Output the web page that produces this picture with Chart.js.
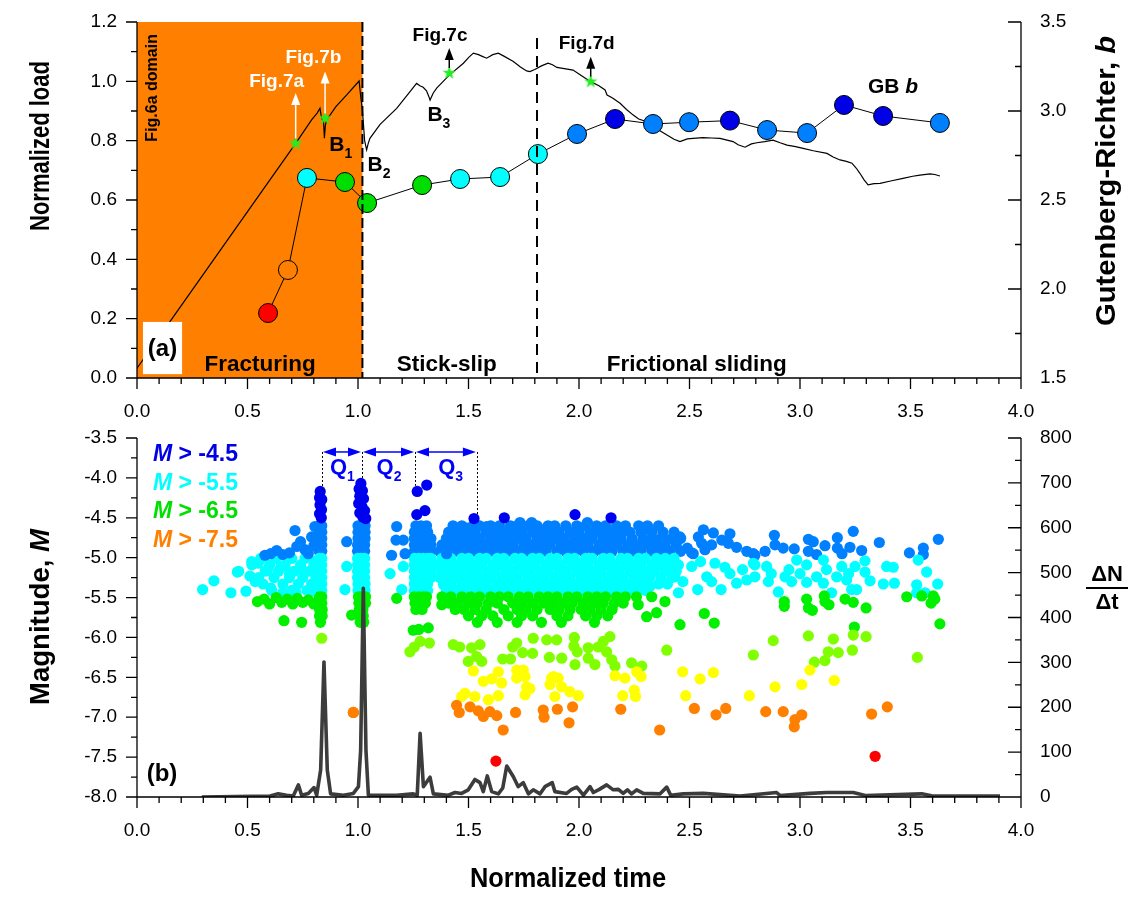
<!DOCTYPE html>
<html>
<head>
<meta charset="utf-8">
<script src="https://cdn.jsdelivr.net/npm/chart.js@4.4.1/dist/chart.umd.min.js"></script>
<style>
html, body { margin: 0; padding: 0; background: #fff; }
#wrap { position: relative; width: 1137px; height: 898px; }
.box { position: absolute; left: 0; width: 1137px; }
#topBox { top: 0; height: 425px; }
#botBox { top: 425px; height: 473px; }
</style>
</head>
<body>
<div id="wrap">
  <div class="box" id="topBox"><canvas id="loadChart"></canvas></div>
  <div class="box" id="botBox"><canvas id="magChart"></canvas></div>
</div>
<script>
// ---- panel (a): load curve ----
const loadT = [0.000,0.149,0.718,0.790,0.815,0.828,0.833,0.838,0.844,0.848,0.852,0.858,0.900,0.950,1.005,1.012,1.020,1.030,1.039,1.046,1.054,1.100,1.175,1.230,1.265,1.280,1.295,1.310,1.320,1.326,1.340,1.356,1.413,1.477,1.500,1.522,1.545,1.560,1.582,1.610,1.635,1.660,1.703,1.735,1.763,1.778,1.800,1.830,1.860,1.880,1.900,1.940,1.973,2.010,2.053,2.090,2.118,2.127,2.150,2.186,2.215,2.244,2.270,2.307,2.340,2.370,2.398,2.430,2.457,2.490,2.516,2.560,2.600,2.638,2.670,2.697,2.720,2.751,2.780,2.805,2.840,2.878,2.910,2.941,2.980,3.014,3.060,3.122,3.150,3.181,3.210,3.235,3.255,3.271,3.290,3.308,3.335,3.362,3.410,3.466,3.510,3.543,3.588,3.610,3.633];
const loadV = [0.033,0.190,0.791,0.870,0.893,0.909,0.885,0.872,0.866,0.808,0.850,0.870,0.915,0.955,1.001,0.950,0.903,0.800,0.769,0.790,0.808,0.855,0.909,0.960,0.993,0.985,0.980,0.968,0.950,0.937,0.960,0.977,1.021,1.061,1.080,1.095,1.090,1.085,1.078,1.090,1.095,1.085,1.067,1.048,1.035,1.033,1.040,1.052,1.061,1.056,1.047,1.042,1.038,1.020,0.999,0.985,0.971,0.954,0.945,0.926,0.905,0.887,0.873,0.864,0.845,0.832,0.819,0.805,0.797,0.806,0.808,0.810,0.809,0.808,0.802,0.797,0.786,0.778,0.789,0.793,0.797,0.802,0.793,0.785,0.780,0.774,0.766,0.757,0.745,0.735,0.730,0.724,0.707,0.690,0.668,0.651,0.655,0.656,0.664,0.673,0.680,0.684,0.688,0.686,0.681];

// Gutenberg-Richter b value
const gbT = [0.593,0.683,0.769,0.941,1.041,1.290,1.462,1.643,1.814,1.991,2.163,2.335,2.498,2.683,2.851,3.032,3.199,3.376,3.633];
const gbB = [1.865,2.107,2.624,2.601,2.483,2.584,2.618,2.629,2.758,2.871,2.955,2.927,2.937,2.946,2.893,2.876,3.034,2.972,2.933];

// Fig.7 markers on the load curve
const figNames = ['Fig.7a', 'Fig.7b', 'Fig.7c', 'Fig.7d'];
const figT = [0.718, 0.851, 1.413, 2.053];
const figLoad = [0.791, 0.875, 1.028, 0.999];
const figArrowTop = [0.961, 1.033, 1.112, 1.083];
const figTextT = [0.632, 0.798, 1.371, 2.035];
const figTextLoad = [0.999, 1.080, 1.153, 1.128];

// stages
const stageEnds = [1.02, 1.81];
const stageNames = ['Fracturing', 'Stick-slip', 'Frictional sliding'];
const stageLabelT = [0.557, 1.402, 2.533];

// ---- panel (b): event rate ----
const rateT = [0.293,0.602,0.639,0.677,0.707,0.730,0.745,0.775,0.801,0.813,0.831,0.846,0.861,0.876,0.934,0.979,1.002,1.012,1.024,1.036,1.047,1.175,1.250,1.268,1.281,1.296,1.326,1.341,1.409,1.439,1.469,1.499,1.529,1.552,1.567,1.585,1.605,1.635,1.655,1.673,1.703,1.725,1.748,1.771,1.793,1.824,1.846,1.879,1.891,1.944,1.967,1.990,2.020,2.050,2.065,2.092,2.125,2.155,2.178,2.200,2.219,2.238,2.261,2.291,2.367,2.397,2.415,2.472,2.563,2.729,2.894,2.910,3.045,3.121,3.241,3.300,3.551,3.600,3.905];
const rateV = [0,2,7,4,2,27,4,8,21,4,60,301,60,7,4,8,23,104,465,104,4,4,7,4,142,23,44,7,4,10,8,16,39,32,12,47,12,7,20,69,45,23,32,7,16,7,23,32,12,8,17,22,4,23,10,17,27,16,17,8,16,7,16,8,7,22,4,7,8,2,10,3,8,10,10,3,7,2,2];

// dense swarm rows: magnitude level and event times
const bandM = [-4.60,-4.68,-4.76,-4.84,-4.92,-5.01,-5.09,-5.17,-5.25,-5.33,-5.41,-5.49,-5.57,-5.65,-5.73,-5.81];
const bandT = [
  [0.824,0.836,1.000,1.016,1.032,1.262,1.285,1.31,1.43,1.47,1.52,1.55,1.60,1.64,1.69,1.72,1.77,1.81,1.86,1.89,1.94,1.99,2.03,2.08,2.12,2.17,2.21,2.27,2.31,2.36],
  [0.824,0.836,1.000,1.016,1.032,1.255,1.275,1.295,1.315,1.41,1.45,1.49,1.53,1.58,1.62,1.66,1.70,1.74,1.79,1.83,1.87,1.91,1.96,2.00,2.05,2.09,2.14,2.18,2.23,2.28,2.33,2.38,2.43],
  [0.824,0.836,1.000,1.016,1.032,1.255,1.275,1.295,1.315,1.33,1.40,1.43,1.47,1.51,1.55,1.60,1.64,1.68,1.72,1.76,1.81,1.85,1.89,1.93,1.98,2.02,2.06,2.11,2.15,2.19,2.24,2.29,2.33,2.37,2.42,2.46],
  [0.824,0.836,0.998,1.014,1.030,1.255,1.275,1.295,1.315,1.33,1.38,1.42,1.46,1.50,1.54,1.58,1.62,1.66,1.70,1.75,1.79,1.83,1.87,1.92,1.96,2.00,2.04,2.09,2.13,2.17,2.22,2.26,2.31,2.35,2.39,2.44],
  [0.824,0.836,0.998,1.014,1.030,1.255,1.275,1.295,1.315,1.33,1.37,1.41,1.45,1.49,1.53,1.57,1.61,1.65,1.69,1.73,1.77,1.81,1.85,1.90,1.94,1.98,2.02,2.07,2.11,2.15,2.20,2.24,2.28,2.33,2.37,2.41,2.46],
  [0.56,0.63,0.70,0.76,0.824,0.836,0.998,1.014,1.030,1.255,1.275,1.295,1.315,1.33,1.38,1.42,1.47,1.50,1.55,1.58,1.63,1.66,1.71,1.74,1.79,1.82,1.87,1.90,1.95,1.98,2.03,2.06,2.11,2.14,2.19,2.22,2.27,2.30,2.35,2.39,2.43],
  [0.52,0.60,0.67,0.74,0.80,0.824,0.836,0.998,1.014,1.030,1.255,1.275,1.295,1.315,1.33,1.36,1.40,1.44,1.48,1.52,1.56,1.61,1.64,1.68,1.73,1.76,1.80,1.85,1.88,1.92,1.97,2.00,2.04,2.09,2.12,2.16,2.21,2.24,2.28,2.33,2.36,2.41,2.45],
  [0.46,0.58,0.64,0.71,0.78,0.824,0.836,0.998,1.014,1.030,1.255,1.275,1.295,1.315,1.33,1.39,1.43,1.46,1.51,1.54,1.59,1.62,1.67,1.70,1.75,1.78,1.83,1.86,1.91,1.94,1.99,2.02,2.07,2.10,2.15,2.18,2.23,2.26,2.31,2.34,2.39,2.44],
  [0.55,0.62,0.69,0.75,0.81,0.824,0.836,0.998,1.014,1.030,1.255,1.275,1.295,1.315,1.33,1.37,1.41,1.45,1.49,1.53,1.57,1.60,1.65,1.69,1.72,1.77,1.81,1.84,1.89,1.93,1.96,2.01,2.05,2.08,2.13,2.17,2.20,2.25,2.29,2.32,2.37,2.42],
  [0.57,0.66,0.73,0.79,0.824,0.836,1.000,1.016,1.032,1.255,1.275,1.295,1.315,1.39,1.42,1.47,1.51,1.55,1.58,1.63,1.67,1.71,1.75,1.79,1.83,1.87,1.91,1.95,1.99,2.03,2.07,2.11,2.15,2.19,2.23,2.27,2.31,2.36,2.40],
  [0.61,0.70,0.77,0.824,0.836,1.000,1.016,1.032,1.255,1.275,1.295,1.315,1.40,1.44,1.48,1.53,1.57,1.61,1.65,1.69,1.74,1.78,1.82,1.86,1.90,1.94,1.98,2.02,2.06,2.10,2.14,2.18,2.22,2.26,2.30],
  [0.824,0.836,1.002,1.018,1.034,1.255,1.275,1.295,1.31,1.38,1.42,1.47,1.51,1.55,1.60,1.64,1.68,1.73,1.77,1.82,1.86,1.90,1.95,1.99,2.04,2.08,2.12,2.17,2.21,2.26],
  [0.824,0.836,1.004,1.020,1.034,1.258,1.28,1.305,1.41,1.45,1.50,1.54,1.59,1.63,1.70,1.74,1.79,1.84,1.88,1.93,1.97,2.02,2.07,2.11,2.16,2.20],
  [0.826,0.838,1.006,1.022,1.262,1.29,1.44,1.48,1.53,1.58,1.66,1.72,1.76,1.81,1.87,1.91,1.96,2.01,2.05,2.10,2.15],
  [0.826,0.838,1.008,1.024,1.50,1.56,1.61,1.68,1.74,1.79,1.90,1.95,2.03,2.08,2.13],
  [0.830,1.010,1.026,1.54,1.63,1.72,1.83,1.92,2.07]
];

// individual events [time, magnitude]
const sparseEvents = [
  [0.297,-5.40],[0.348,-5.29],[0.425,-5.44],[0.493,-5.42],[0.454,-5.18],[0.511,-5.23],[0.519,-5.05],[0.549,-5.07],[0.535,-5.30],[0.590,-5.15],[0.605,-5.38],[0.650,-5.12],[0.660,-5.44],[0.690,-5.20],[0.720,-5.44],[0.745,-5.15],[0.785,-5.42],[0.805,-5.05],
  [0.579,-4.97],[0.632,-4.91],[0.605,-4.95],[0.660,-4.96],[0.690,-4.94],[0.715,-4.66],[0.723,-4.86],[0.740,-4.80],[0.760,-4.90],[0.775,-4.95],[0.790,-4.74],[0.800,-4.85],[0.805,-4.61],
  [0.545,-5.55],[0.575,-5.52],[0.600,-5.58],[0.630,-5.50],[0.655,-5.56],[0.680,-5.52],[0.705,-5.58],[0.725,-5.51],[0.750,-5.56],[0.775,-5.53],[0.800,-5.58],[0.665,-5.79],[0.745,-5.81],[0.836,-6.01],
  [0.829,-4.17],[0.826,-4.25],[0.836,-4.27],[0.828,-4.34],[0.835,-4.40],[0.826,-4.45],[0.834,-4.50],
  [1.013,-4.07],[1.005,-4.14],[1.020,-4.16],[1.008,-4.23],[1.025,-4.26],[1.003,-4.32],[1.018,-4.36],[1.030,-4.41],[1.008,-4.44],[1.022,-4.49],[1.035,-4.51],
  [1.268,-4.17],[1.311,-4.09],[1.266,-4.46],[1.303,-4.41],[1.525,-4.51],[1.662,-4.50],[1.982,-4.46],[2.145,-4.50],
  [0.949,-4.80],[0.949,-5.11],[0.941,-5.40],[0.971,-5.72],[0.979,-6.94],
  [1.175,-4.61],[1.172,-4.78],[1.152,-4.97],[1.145,-5.20],[1.205,-5.11],[1.198,-5.40],[1.175,-5.51],[1.205,-4.78],[1.213,-4.95],
  [1.250,-5.91],[1.318,-5.88],[1.275,-5.90],[1.235,-6.18],[1.281,-6.05],[1.323,-6.07],[1.255,-6.12],
  [1.379,-5.18],[1.387,-5.34],[1.379,-5.59],[1.401,-4.95],
  [1.492,-4.63],[1.582,-4.61],[1.733,-4.56],[1.786,-4.56],[1.838,-4.65],[1.891,-4.69],[2.038,-4.56],[2.103,-4.66],[2.208,-4.66],[2.291,-4.65],[2.336,-4.78],[2.389,-4.78],[2.457,-4.74],
  [2.49,-4.88],[2.51,-4.94],[2.517,-4.95],[2.54,-4.74],[2.555,-4.82],[2.563,-4.65],[2.57,-4.90],[2.60,-4.84],[2.608,-4.69],[2.646,-4.78],[2.676,-4.82],[2.683,-4.70],[2.713,-4.87],[2.759,-4.92],[2.789,-4.95],[2.796,-4.97],
  [2.842,-4.92],[2.884,-4.72],[2.887,-4.84],[2.924,-4.88],[2.974,-4.89],[3.038,-4.77],[3.060,-4.80],[3.038,-4.92],[3.075,-4.96],[3.113,-4.85],[3.169,-4.75],[3.169,-4.88],[3.190,-4.95],[3.226,-4.87],[3.241,-4.67],[3.279,-4.91],[3.359,-4.81],[3.495,-4.94],[3.558,-4.88],[3.558,-4.96],[3.626,-4.77],
  [2.321,-5.36],[2.397,-5.15],[2.434,-5.24],[2.45,-5.44],[2.47,-5.30],[2.51,-5.11],[2.537,-5.40],[2.55,-5.05],[2.578,-5.24],[2.60,-5.30],[2.615,-5.07],[2.643,-5.40],[2.66,-5.12],[2.683,-5.20],[2.713,-5.32],[2.74,-5.15],[2.759,-5.28],[2.789,-5.07],
  [2.796,-5.09],[2.796,-5.24],[2.849,-5.11],[2.857,-5.30],[2.870,-5.20],[2.902,-5.43],[2.932,-5.24],[2.950,-5.15],[2.962,-5.30],[2.985,-5.03],[3.000,-5.20],[3.030,-5.09],[3.030,-5.31],[3.075,-5.24],[3.106,-5.32],[3.106,-5.03],[3.120,-5.15],[3.143,-5.44],[3.166,-5.24],[3.189,-5.11],[3.211,-5.28],[3.220,-5.20],[3.234,-5.40],[3.249,-5.11],[3.256,-5.40],[3.294,-5.04],[3.294,-5.18],[3.317,-5.29],[3.392,-5.11],[3.422,-5.12],[3.377,-5.33],[3.427,-5.32],[3.535,-5.03],[3.573,-5.18],[3.528,-5.34],[3.528,-5.44],[3.566,-5.44],[3.623,-5.33],
  [2.268,-5.59],[2.306,-5.74],[2.329,-5.49],[2.351,-5.69],[2.389,-5.55],[2.457,-5.84],[2.567,-5.70],[2.612,-5.82],[2.929,-5.55],[2.929,-5.61],[3.030,-5.52],[3.038,-5.63],[3.056,-5.66],[3.110,-5.48],[3.113,-5.55],[3.131,-5.59],[3.204,-5.52],[3.241,-5.56],[3.246,-5.87],[3.299,-5.63],[3.483,-5.49],[3.551,-5.48],[3.593,-5.57],[3.603,-5.48],[3.610,-5.52],[3.633,-5.83],
  [1.431,-6.09],[1.460,-6.12],[1.499,-6.30],[1.514,-6.13],[1.537,-6.24],[1.552,-6.09],[1.560,-6.30],[1.655,-6.27],[1.690,-6.27],[1.700,-6.12],[1.718,-6.07],[1.745,-6.19],[1.790,-6.20],[1.793,-6.01],[1.854,-6.03],[1.866,-6.25],[1.899,-6.03],[1.922,-6.26],[1.977,-6.11],[1.979,-6.00],[1.982,-6.34],[1.992,-6.18],[2.042,-6.13],[2.042,-6.26],[2.072,-6.34],[2.087,-6.12],[2.110,-6.05],[2.125,-6.18],[2.140,-5.99],[2.148,-6.28],[2.163,-6.36],[2.238,-6.32],[2.284,-6.36],[2.397,-6.16],[2.789,-6.22],[2.879,-6.04],[3.038,-5.98],[3.065,-6.31],[3.113,-6.29],[3.128,-6.18],[3.151,-6.02],[3.173,-6.19],[3.237,-6.16],[3.241,-5.97],[3.299,-5.99],[3.531,-6.25],
  [1.469,-6.74],[1.484,-6.70],[1.522,-6.42],[1.529,-6.74],[1.567,-6.55],[1.590,-6.78],[1.605,-6.52],[1.635,-6.43],[1.635,-6.73],[1.650,-6.57],[1.718,-6.41],[1.718,-6.51],[1.748,-6.41],[1.756,-6.49],[1.756,-6.72],[1.763,-6.62],[1.778,-6.64],[1.869,-6.59],[1.876,-6.51],[1.884,-6.49],[1.891,-6.74],[1.906,-6.51],[1.921,-6.62],[1.959,-6.68],[1.997,-6.73],[2.163,-6.48],[2.198,-6.73],[2.208,-6.51],[2.250,-6.66],[2.256,-6.74],[2.261,-6.43],[2.281,-6.49],[2.469,-6.43],[2.483,-6.73],[2.548,-6.52],[2.608,-6.44],[2.771,-6.73],[2.887,-6.62],[3.008,-6.59],[3.045,-6.41],[3.155,-6.54],
  [0.979,-6.94],[1.446,-6.85],[1.458,-6.94],[1.507,-6.87],[1.544,-6.92],[1.567,-6.99],[1.597,-6.93],[1.628,-6.98],[1.657,-7.16],[1.713,-6.94],[1.838,-6.91],[1.842,-7.00],[1.902,-6.90],[1.955,-7.07],[1.971,-6.87],[2.189,-6.90],[2.365,-7.16],[2.522,-6.89],[2.620,-6.97],[2.664,-6.89],[2.845,-6.93],[2.924,-6.93],[2.974,-7.12],[2.977,-7.03],[3.008,-6.97],[3.324,-6.96],[3.395,-6.87],
  [1.624,-7.55],[3.340,-7.49]
];

// Q intervals
const qBounds = [0.837, 1.018, 1.258, 1.538];
const qDrop = [-4.17, -4.03, -4.10, -4.48];
const qLevel = -3.675;
const qLabelT = [0.911, 1.122, 1.401];

const legendText = ['-4.5', '-5.5', '-6.5', '-7.5'];
const legendColor = ['#0000E6', '#00FFFF', '#00E000', '#FF8000'];

const FONT = "'Liberation Sans', Arial, sans-serif";
Chart.defaults.font.family = FONT;
Chart.defaults.color = '#000';

function bColor(b) {
  if (b < 2.0) return '#FF0000';
  if (b < 2.3) return '#FF8000';
  if (b < 2.61) return '#00DD00';
  if (b < 2.8) return '#00FFFF';
  if (b < 2.94) return '#0080FF';
  return '#0000E6';
}
function magColor(m) {
  if (m > -4.52) return '#0000F0';
  if (m > -4.98) return '#0080FF';
  if (m > -5.46) return '#00FFFF';
  if (m > -5.93) return '#00F000';
  if (m > -6.38) return '#80FF00';
  if (m > -6.79) return '#FFFF00';
  if (m > -7.35) return '#FF8000';
  return '#FF0000';
}

function starImage(size, color) {
  const c = document.createElement('canvas');
  c.width = c.height = size;
  const g = c.getContext('2d');
  g.fillStyle = color;
  g.beginPath();
  for (let i = 0; i < 10; i++) {
    const r = i % 2 ? size * 0.2 : size * 0.5;
    const a = -Math.PI / 2 + i * Math.PI / 5;
    g.lineTo(size / 2 + r * Math.cos(a), size / 2 + r * Math.sin(a));
  }
  g.closePath();
  g.fill();
  return c;
}

// text made of several runs: [text, font, dy]
function richText(ctx, parts, x, y, o = {}) {
  ctx.save();
  ctx.translate(x, y);
  if (o.rot) ctx.rotate(o.rot);
  let w = 0;
  parts.forEach(p => { ctx.font = p[1]; w += ctx.measureText(p[0]).width; });
  if (o.width) ctx.scale(o.width / w, 1);
  let cx = o.align === 'left' ? 0 : -w / 2;
  ctx.textBaseline = 'middle';
  ctx.textAlign = 'left';
  ctx.fillStyle = o.color || '#000';
  parts.forEach(p => {
    ctx.font = p[1];
    ctx.fillText(p[0], cx, p[2] || 0);
    cx += ctx.measureText(p[0]).width;
  });
  ctx.restore();
}

function arrowHead(ctx, x, y, dir, len, half) {
  ctx.beginPath();
  if (dir === 'up') { ctx.moveTo(x, y); ctx.lineTo(x - half, y + len); ctx.lineTo(x + half, y + len); }
  if (dir === 'left') { ctx.moveTo(x, y); ctx.lineTo(x + len, y - half); ctx.lineTo(x + len, y + half); }
  if (dir === 'right') { ctx.moveTo(x, y); ctx.lineTo(x - len, y - half); ctx.lineTo(x - len, y + half); }
  ctx.closePath();
  ctx.fill();
}

const axisFrame = {
  id: 'axisFrame',
  afterDraw(chart, args, o) {
    const { ctx, chartArea: a, scales } = chart;
    ctx.save();
    ctx.strokeStyle = '#000';
    ctx.lineWidth = 1.3;
    ctx.beginPath();
    ctx.moveTo(a.left, a.top); ctx.lineTo(a.left, a.bottom);
    ctx.lineTo(a.right, a.bottom); ctx.lineTo(a.right, a.top);
    o.marks.forEach(([id, min, max, step, every, side]) => {
      const s = scales[id];
      const n = Math.round((max - min) / step);
      for (let i = 0; i <= n; i++) {
        const p = s.getPixelForValue(min + i * step);
        const major = i % every === 0;
        if (side === 'down') { ctx.moveTo(p, a.bottom); ctx.lineTo(p, a.bottom + (major ? 11 : 6)); }
        else if (side === 'left') { ctx.moveTo(a.left, p); ctx.lineTo(a.left - (major ? 11 : 6), p); }
        else { ctx.moveTo(a.right, p); ctx.lineTo(a.right - (major ? 13 : 6), p); }
      }
    });
    ctx.stroke();
    ctx.restore();
  }
};

const loadDecor = {
  id: 'loadDecor',
  beforeDatasetsDraw(chart) {
    const { ctx, scales: { x, y } } = chart;
    ctx.save();
    ctx.fillStyle = '#FF8000';
    const x0 = x.getPixelForValue(0), x1 = x.getPixelForValue(stageEnds[0]);
    const yT = y.getPixelForValue(1.2), yB = y.getPixelForValue(0);
    ctx.fillRect(x0, yT, x1 - x0, yB - yT);
    ctx.restore();
  },
  afterDatasetsDraw(chart) {
    const { ctx, scales: { x, y } } = chart;
    ctx.save();
    // stage boundaries
    ctx.strokeStyle = '#000';
    ctx.lineWidth = 2;
    const tops = [1.2, 1.146];
    stageEnds.forEach((t, i) => {
      ctx.setLineDash(i === 0 ? [10, 4] : [11, 7]);
      ctx.beginPath();
      ctx.moveTo(x.getPixelForValue(t), y.getPixelForValue(tops[i]));
      ctx.lineTo(x.getPixelForValue(t), y.getPixelForValue(0));
      ctx.stroke();
    });
    ctx.setLineDash([]);
    // fig arrows and labels
    figNames.forEach((name, i) => {
      const col = i < 2 ? '#FFFFFF' : '#000000';
      const px = x.getPixelForValue(figT[i]);
      const p0 = y.getPixelForValue(figLoad[i]) - 5;
      const p1 = y.getPixelForValue(figArrowTop[i]);
      ctx.strokeStyle = col; ctx.fillStyle = col; ctx.lineWidth = 1.5;
      ctx.beginPath(); ctx.moveTo(px, p0); ctx.lineTo(px, p1 + 10); ctx.stroke();
      arrowHead(ctx, px, p1, 'up', 12, 4.5);
      richText(ctx, [[name, 'bold 19px ' + FONT]], x.getPixelForValue(figTextT[i]), y.getPixelForValue(figTextLoad[i]), { color: col });
    });
    // vertical domain label
    richText(ctx, [['Fig.6a domain', 'bold 16px ' + FONT]], x.getPixelForValue(0.072), y.getPixelForValue(0.978), { rot: -Math.PI / 2 });
    // B labels
    const big = 'bold 21px ' + FONT, sub = 'bold 14px ' + FONT;
    [['1', 0.904, 0.785], ['2', 1.077, 0.718], ['3', 1.348, 0.887]].forEach(([s, t, v]) => {
      richText(ctx, [['B', big], [s, sub, 9]], x.getPixelForValue(t) + 4, y.getPixelForValue(v));
    });
    richText(ctx, [['GB ', 'bold 21px ' + FONT], ['b', 'italic bold 21px ' + FONT]], x.getPixelForValue(3.421), y.getPixelForValue(0.981));
    // stage names
    stageNames.forEach((n, i) => richText(ctx, [[n, 'bold 22.5px ' + FONT]], x.getPixelForValue(stageLabelT[i]), y.getPixelForValue(0.044)));
    // (a) label box
    const bx0 = x.getPixelForValue(0.027), bx1 = x.getPixelForValue(0.204);
    const by0 = y.getPixelForValue(0.189), by1 = y.getPixelForValue(0.013);
    ctx.fillStyle = '#fff';
    ctx.fillRect(bx0, by0, bx1 - bx0, by1 - by0);
    richText(ctx, [['(a)', 'bold 24px ' + FONT]], (bx0 + bx1) / 2, (by0 + by1) / 2 + 1);
    ctx.restore();
  },
  afterDraw(chart) {
    const { ctx } = chart;
    richText(ctx, [['Normalized load', 'bold 27px ' + FONT]], 42, 146, { rot: -Math.PI / 2, width: 170 });
    richText(ctx, [['Gutenberg-Richter, ', 'bold 27px ' + FONT], ['b', 'italic bold 27px ' + FONT]], 1108, 181, { rot: -Math.PI / 2, width: 290 });
  }
};

const magDecor = {
  id: 'magDecor',
  afterDatasetsDraw(chart) {
    const { ctx, scales: { x, y } } = chart;
    ctx.save();
    // Q intervals
    const yq = y.getPixelForValue(qLevel);
    ctx.strokeStyle = '#000'; ctx.lineWidth = 1; ctx.setLineDash([2, 2]);
    qBounds.forEach((t, i) => {
      const px = Math.round(x.getPixelForValue(t)) + 0.5;
      ctx.beginPath(); ctx.moveTo(px, yq); ctx.lineTo(px, y.getPixelForValue(qDrop[i])); ctx.stroke();
    });
    ctx.setLineDash([]);
    ctx.strokeStyle = '#0000FF'; ctx.fillStyle = '#0000FF'; ctx.lineWidth = 1.5;
    for (let i = 0; i < qBounds.length - 1; i++) {
      const a = x.getPixelForValue(qBounds[i]) + 1, b = x.getPixelForValue(qBounds[i + 1]) - 1;
      ctx.beginPath(); ctx.moveTo(a + 8, yq); ctx.lineTo(b - 8, yq); ctx.stroke();
      arrowHead(ctx, a, yq, 'left', 13, 4.5);
      arrowHead(ctx, b, yq, 'right', 13, 4.5);
      richText(ctx, [['Q', 'bold 22px ' + FONT], [String(i + 1), 'bold 14px ' + FONT, 9]], x.getPixelForValue(qLabelT[i]) + 4, y.getPixelForValue(-3.88), { color: '#0000FF' });
    }
    // legend
    legendText.forEach((s, i) => {
      richText(ctx, [['M', 'italic bold 23px ' + FONT], [' > ' + s, 'bold 23px ' + FONT]], 153, 30 + i * 28.5, { align: 'left', color: legendColor[i] });
    });
    richText(ctx, [['(b)', 'bold 24px ' + FONT]], x.getPixelForValue(0.113), y.getPixelForValue(-7.72));
    ctx.restore();
  },
  afterDraw(chart) {
    const { ctx } = chart;
    richText(ctx, [['Magnitude, ', 'bold 27px ' + FONT], ['M', 'italic bold 27px ' + FONT]], 42, 192, { rot: -Math.PI / 2, width: 176 });
    richText(ctx, [['Normalized time', 'bold 27px ' + FONT]], 568, 455, { width: 196 });
    richText(ctx, [['\u0394N', 'bold 22px ' + FONT]], 1107, 150);
    richText(ctx, [['\u0394t', 'bold 22px ' + FONT]], 1107, 178);
    ctx.save();
    ctx.fillStyle = '#000';
    ctx.fillRect(1086, 162, 42, 2);
    ctx.restore();
  }
};

const tickFont = { size: 19, family: FONT };
const noGrid = { display: false, drawTicks: false };
// keep the plot area where the layout padding puts it
const fixY = w => s => { s.width = w; s.paddingTop = 0; s.paddingBottom = 0; };
const fixX = h => s => { s.height = h; s.paddingLeft = 0; s.paddingRight = 0; };

// ---- chart (a) ----
new Chart(document.getElementById('loadChart'), {
  type: 'line',
  data: {
    datasets: [
      {
        type: 'scatter', label: 'Fig.7', yAxisID: 'y',
        data: figT.map((t, i) => ({ x: t, y: figLoad[i] })),
        pointStyle: starImage(14, '#22EE22'), pointRadius: 7, order: 0
      },
      {
        label: 'GB b', yAxisID: 'y2',
        data: gbT.map((t, i) => ({ x: t, y: gbB[i] })),
        borderColor: '#000', borderWidth: 1, tension: 0,
        pointRadius: 9.5, pointBorderColor: '#000', pointBorderWidth: 1,
        pointBackgroundColor: gbB.map(bColor), order: 1
      },
      {
        label: 'Normalized load', yAxisID: 'y',
        data: loadT.map((t, i) => ({ x: t, y: loadV[i] })),
        borderColor: '#000', borderWidth: 1.2, pointRadius: 0, tension: 0, order: 2
      }
    ]
  },
  options: {
    responsive: true, maintainAspectRatio: false, animation: false, events: [],
    layout: { padding: { top: 22, left: 0, right: 0, bottom: 0 } },
    plugins: {
      legend: { display: false }, tooltip: { enabled: false },
      axisFrame: { marks: [['x', 0, 4, 0.1, 5, 'down'], ['y', 0, 1.2, 0.1, 2, 'left'], ['y2', 1.5, 3.5, 0.25, 2, 'right']] }
    },
    scales: {
      x: {
        type: 'linear', min: 0, max: 4, grid: noGrid, border: { display: false },
        ticks: { stepSize: 0.5, callback: v => v.toFixed(1), font: tickFont, padding: 22, maxRotation: 0, autoSkip: false },
        afterFit: fixX(47)
      },
      y: {
        position: 'left', min: 0, max: 1.2, grid: noGrid, border: { display: false },
        ticks: { stepSize: 0.2, callback: v => v.toFixed(1), font: tickFont, padding: 20 },
        afterFit: fixY(137)
      },
      y2: {
        position: 'right', min: 1.5, max: 3.5, grid: noGrid, border: { display: false },
        ticks: { stepSize: 0.5, callback: v => v.toFixed(1), font: tickFont, padding: 19 },
        afterFit: fixY(116)
      }
    }
  },
  plugins: [loadDecor, axisFrame]
});

// ---- chart (b) ----
const quakePoints = [];
bandM.forEach((m, i) => bandT[i].forEach(t => quakePoints.push({ x: t, y: m })));
sparseEvents.forEach(([t, m]) => quakePoints.push({ x: t, y: m }));

new Chart(document.getElementById('magChart'), {
  type: 'scatter',
  data: {
    datasets: [
      {
        type: 'line', label: '\u0394N/\u0394t', yAxisID: 'y2',
        data: rateT.map((t, i) => ({ x: t, y: rateV[i] })),
        borderColor: '#3C3C3C', borderWidth: 3.6, pointRadius: 0, tension: 0,
        borderJoinStyle: 'round', order: 0
      },
      {
        label: 'Magnitude', yAxisID: 'y',
        data: quakePoints,
        pointRadius: 5.6, borderWidth: 0,
        backgroundColor: c => magColor(c.raw.y), order: 1
      }
    ]
  },
  options: {
    responsive: true, maintainAspectRatio: false, animation: false, events: [],
    layout: { padding: { top: 13, left: 0, right: 0, bottom: 0 } },
    plugins: {
      legend: { display: false }, tooltip: { enabled: false },
      axisFrame: { marks: [['x', 0, 4, 0.1, 5, 'down'], ['y', -8, -3.5, 0.25, 2, 'left'], ['y2', 0, 800, 50, 2, 'right']] }
    },
    scales: {
      x: {
        type: 'linear', min: 0, max: 4, grid: noGrid, border: { display: false },
        ticks: { stepSize: 0.5, callback: v => v.toFixed(1), font: tickFont, padding: 22, maxRotation: 0, autoSkip: false },
        afterFit: fixX(101)
      },
      y: {
        position: 'left', min: -8, max: -3.5, grid: noGrid, border: { display: false },
        ticks: { stepSize: 0.5, callback: v => v.toFixed(1), font: tickFont, padding: 20 },
        afterFit: fixY(137)
      },
      y2: {
        position: 'right', min: 0, max: 800, grid: noGrid, border: { display: false },
        ticks: { stepSize: 100, font: tickFont, padding: 19 },
        afterFit: fixY(116)
      }
    }
  },
  plugins: [magDecor, axisFrame]
});
</script>
</body>
</html>
